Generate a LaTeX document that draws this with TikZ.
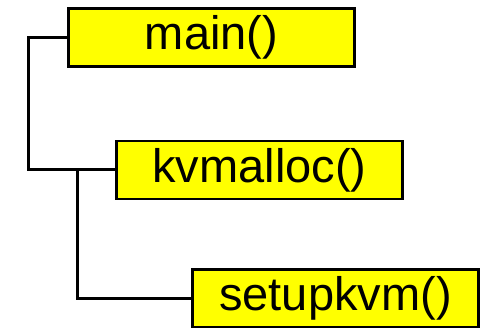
\documentclass[tikz,border=0pt]{standalone}
\usepackage{fontspec}
\setmainfont{Liberation Sans}
\usepackage{tikz}

\definecolor{boxyellow}{RGB}{255,255,0}

\tikzset{
  call/.style={draw, fill=boxyellow, line width=2.5pt, minimum width=286pt,
    minimum height=58pt, inner sep=0pt, font=\fontsize{47}{50}\selectfont},
  link/.style={line width=3pt}
}

\begin{document}
\begin{tikzpicture}[x=1pt, y=1pt]
				\useasboundingbox (0,0) rectangle (486,328);

				\node [call] (main) at (211.5,290.5) {main()};
				\node [call] (kvm) at (259.5,158) {kvmalloc()};
				\node [call] (setup) at (335.5,29.5) {setupkvm()};

				\coordinate (top_left) at (28,290.5);
				\coordinate (split) at (77,158);

				\draw [link] (main.west) -- (top_left) |- (kvm.west);
				\draw [link] (split) |- (setup.west);
			\end{tikzpicture}
\end{document}
